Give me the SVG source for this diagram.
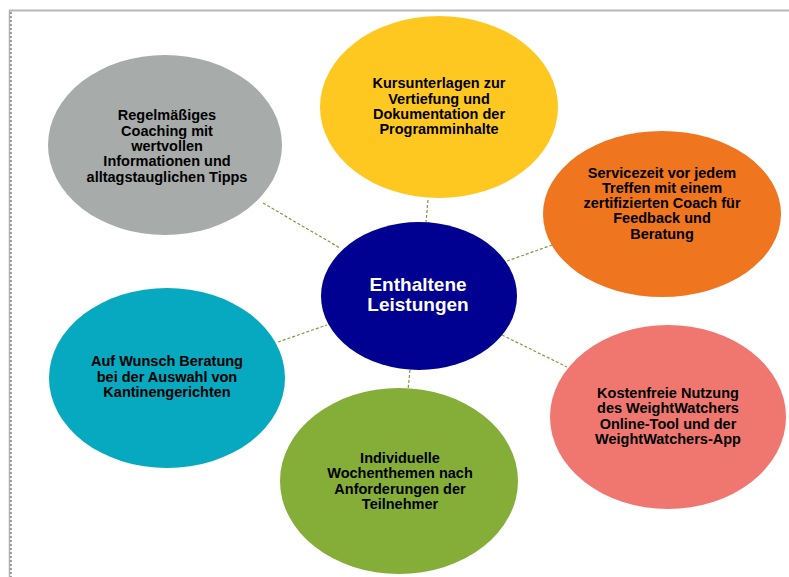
<svg xmlns="http://www.w3.org/2000/svg" width="789" height="577" viewBox="0 0 789 577">
<style>
  .lbl { font-family: "Liberation Sans", Arial, sans-serif; font-weight: bold; font-size: 14.5px; fill: #000; text-anchor: middle; }
  .main { font-family: "Liberation Sans", Arial, sans-serif; font-weight: bold; font-size: 19px; fill: #fff; text-anchor: middle; }
  .conn { stroke: #7E9A3E; stroke-width: 1.2; stroke-dasharray: 3 2; fill: none; }
</style>
<rect x="0" y="0" width="789" height="577" fill="#fff"/>
<g id="frame">
  <rect x="9" y="9.5" width="780" height="2" fill="#b8b8b8"/>
  <line x1="9.5" y1="10" x2="9.5" y2="577" stroke="#b0b0b0" stroke-width="1.5"/>
  <line x1="11" y1="12" x2="11" y2="577" stroke="#444" stroke-width="1" stroke-dasharray="2 2"/>
</g>
<g id="connectors">
  <line class="conn" x1="263" y1="203" x2="340" y2="248"/>
  <line class="conn" x1="428" y1="200" x2="426" y2="222"/>
  <line class="conn" x1="507" y1="261" x2="555" y2="244"/>
  <line class="conn" x1="502" y1="335" x2="567" y2="367"/>
  <line class="conn" x1="278" y1="342" x2="327" y2="325"/>
  <line class="conn" x1="410" y1="370" x2="408" y2="390"/>
</g>
<g id="node-coaching">
  <ellipse cx="165" cy="145" rx="117" ry="90" fill="#A7ABAA"/>
  <text class="lbl" x="167" y="120">Regelmäßiges</text>
  <text class="lbl" x="167" y="136">Coaching mit</text>
  <text class="lbl" x="167" y="151">wertvollen</text>
  <text class="lbl" x="167" y="166">Informationen und</text>
  <text class="lbl" x="167" y="182">alltagstauglichen Tipps</text>
</g>
<g id="node-kursunterlagen">
  <ellipse cx="439" cy="107" rx="119" ry="91" fill="#FFC820"/>
  <text class="lbl" x="439" y="88">Kursunterlagen zur</text>
  <text class="lbl" x="439" y="104">Vertiefung und</text>
  <text class="lbl" x="439" y="119">Dokumentation der</text>
  <text class="lbl" x="439" y="134">Programminhalte</text>
</g>
<g id="node-servicezeit">
  <ellipse cx="662" cy="214" rx="119" ry="83" fill="#EF751E"/>
  <text class="lbl" x="662" y="178">Servicezeit vor jedem</text>
  <text class="lbl" x="662" y="193">Treffen mit einem</text>
  <text class="lbl" x="662" y="208">zertifizierten Coach für</text>
  <text class="lbl" x="662" y="223">Feedback und</text>
  <text class="lbl" x="662" y="239">Beratung</text>
</g>
<g id="node-kostenfreie">
  <ellipse cx="668" cy="417" rx="118" ry="92" fill="#EF7770"/>
  <text class="lbl" x="668" y="398">Kostenfreie Nutzung</text>
  <text class="lbl" x="668" y="413">des WeightWatchers</text>
  <text class="lbl" x="668" y="429">Online-Tool und der</text>
  <text class="lbl" x="668" y="444">WeightWatchers-App</text>
</g>
<g id="node-wochenthemen">
  <ellipse cx="399" cy="481" rx="119" ry="93" fill="#85AE38"/>
  <text class="lbl" x="400" y="463">Individuelle</text>
  <text class="lbl" x="400" y="478">Wochenthemen nach</text>
  <text class="lbl" x="400" y="494">Anforderungen der</text>
  <text class="lbl" x="400" y="509">Teilnehmer</text>
</g>
<g id="node-kantine">
  <ellipse cx="167" cy="378" rx="118" ry="90" fill="#06A9BF"/>
  <text class="lbl" x="167" y="366">Auf Wunsch Beratung</text>
  <text class="lbl" x="167" y="382">bei der Auswahl von</text>
  <text class="lbl" x="167" y="397">Kantinengerichten</text>
</g>
<g id="node-center">
  <ellipse cx="419" cy="296" rx="98" ry="74" fill="#000091"/>
  <text class="main" x="418" y="291">Enthaltene</text>
  <text class="main" x="418" y="311">Leistungen</text>
</g>
</svg>
